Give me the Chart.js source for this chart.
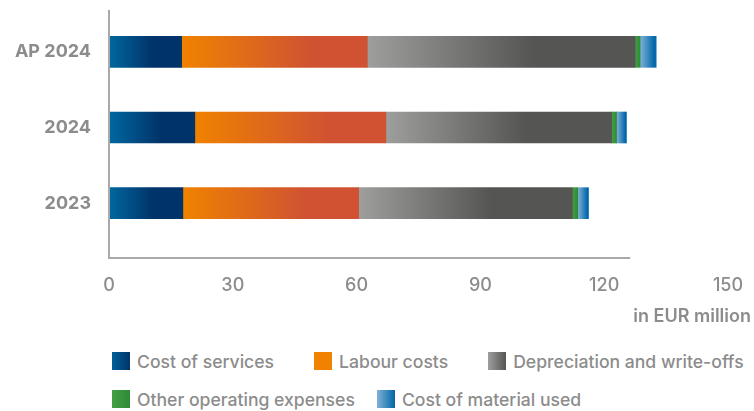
<!DOCTYPE html>
<html>
<head>
<meta charset="utf-8">
<script src="https://cdn.jsdelivr.net/npm/chart.js@4.4.1/dist/chart.umd.min.js"></script>
<style>
  html, body { margin: 0; padding: 0; background: #fff; }
  #wrap { position: relative; width: 754px; height: 411px; font-family: Inter, 'Open Sans', sans-serif; overflow: hidden; }
  #box { position: absolute; left: 0; top: 0; width: 754px; height: 335px; }
  #legend {
    position: absolute; left: 112px; top: 350px; width: 660px;
    display: flex; flex-wrap: wrap; column-gap: 40px; row-gap: 16px;
  }
  .item { display: flex; align-items: center; color: #8c8c8c; font-size: 17.6px; font-weight: 500; height: 22px; white-space: nowrap; }
  .item:nth-child(4) { margin-right: -18px; }
  .sw { width: 18px; height: 18px; margin-right: 7px; }
</style>
</head>
<body>
<div id="wrap">
  <div id="box"><canvas id="costs"></canvas></div>
  <div id="legend"></div>
</div>
<script>
/* ── Data (EUR million) ─────────────────────────────────────────────────────── */
const periods     = ['AP 2024', '2024', '2023'];
const seriesNames = ['Cost of services', 'Labour costs', 'Depreciation and write-offs',
                     'Other operating expenses', 'Cost of material used'];
const services     = [17.6, 20.8, 17.9];
const labour       = [45.0, 46.3, 42.6];
const depreciation = [64.9, 54.7, 51.8];
const otherOpex    = [1.2, 1.2, 1.3];
const material     = [3.9, 2.4, 2.6];
const xTicks       = [0, 30, 60, 90, 120, 150];

const series = [services, labour, depreciation, otherOpex, material];

/* ── Styling ────────────────────────────────────────────────────────────────── */
const GREY = '#8c8c8c';
const AXIS = '#a9a9a9';
const FONT = "Inter, 'Open Sans', sans-serif";

// gradient stops per segment, left → right
const FILLS = [
  [[0, '#0068a0'], [0.6, '#003369'], [1, '#003369']],
  [[0, '#f08200'], [0.7, '#d05232'], [1, '#d05232']],
  [[0, '#9e9e9c'], [0.62, '#555553'], [1, '#555553']],
  [[0, '#44a043'], [1, '#2f8a38']],
  [[0, '#80b2d8'], [0.9, '#0066a8'], [1, '#0a70b0']],
];
const LEGEND_FILLS = [
  'linear-gradient(90deg,#00609a,#003369)',
  '#f08200',
  'linear-gradient(90deg,#9e9e9c,#555553)',
  'linear-gradient(90deg,#44a043,#2f8a38)',
  'linear-gradient(90deg,#80b2d8,#0066a8)',
];

// fills each stacked segment with its own horizontal gradient
function segmentFill(di) {
  return ctx => {
    const chart = ctx.chart;
    if (!chart.chartArea || ctx.type !== 'data') return FILLS[di][0][1];
    const i = ctx.dataIndex;
    let start = 0;
    for (let k = 0; k < di; k++) start += series[k][i];
    const end = start + series[di][i];
    const xs = chart.scales.x;
    const x0 = xs.getPixelForValue(start), x1 = xs.getPixelForValue(end);
    const g = chart.ctx.createLinearGradient(x0, 0, x1 + 0.01, 0);
    FILLS[di].forEach(([o, c]) => g.addColorStop(o, c));
    return g;
  };
}

/* Axis lines + unit label ────────────────────────────────────────────────────── */
const axisLines = {
  id: 'axisLines',
  afterDraw(chart) {
    const { ctx, chartArea: a, scales: { x } } = chart;
    const yBase = a.bottom + 17;
    ctx.save();
    ctx.strokeStyle = AXIS;
    ctx.lineWidth = 2;
    ctx.beginPath();
    ctx.moveTo(a.left, 10);
    ctx.lineTo(a.left, yBase);
    ctx.lineTo(x.getPixelForValue(126.3), yBase);
    ctx.stroke();
    ctx.fillStyle = GREY;
    ctx.font = `600 18px ${FONT}`;
    ctx.textAlign = 'right';
    ctx.textBaseline = 'middle';
    ctx.fillText('in EUR million', chart.width - 3, 317);
    ctx.restore();
  },
};

/* ── Chart ──────────────────────────────────────────────────────────────────── */
const chart = new Chart(document.getElementById('costs'), {
  type: 'bar',
  data: {
    labels: periods,
    datasets: series.map((vals, di) => ({
      label: seriesNames[di],
      data: vals,
      backgroundColor: segmentFill(di),
      borderWidth: 0,
      barThickness: 31,
    })),
  },
  options: {
    indexAxis: 'y',
    responsive: true,
    maintainAspectRatio: false,
    animation: false,
    layout: { padding: { top: 14, right: 26, left: 0, bottom: 0 } },
    plugins: { legend: { display: false }, tooltip: { enabled: false } },
    scales: {
      x: {
        stacked: true,
        min: 0,
        max: 150,
        afterBuildTicks: axis => { axis.ticks = xTicks.map(v => ({ value: v })); },
        grid: { display: false, drawTicks: false },
        border: { display: false },
        ticks: { color: GREY, padding: 34, font: { family: FONT, size: 18, weight: '500' } },
        afterFit: axis => {
          axis.height = 94;
          axis.paddingLeft = 0;
          axis.paddingRight = 0;
        },
      },
      y: {
        stacked: true,
        grid: { display: false, drawTicks: false },
        border: { display: false },
        ticks: { color: GREY, padding: 18, font: { family: FONT, size: 18, weight: '700' } },
        afterFit: axis => {
          axis.width = 109;
          axis.paddingTop = 0;
          axis.paddingBottom = 0;
        },
      },
    },
  },
  plugins: [axisLines],
});

/* ── HTML legend ────────────────────────────────────────────────────────────── */
const legendEl = document.getElementById('legend');
chart.data.datasets.forEach((ds, di) => {
  const item = document.createElement('div');
  item.className = 'item';
  const sw = document.createElement('span');
  sw.className = 'sw';
  sw.style.background = LEGEND_FILLS[di];
  item.appendChild(sw);
  item.appendChild(document.createTextNode(ds.label));
  legendEl.appendChild(item);
});
</script>
</body>
</html>
